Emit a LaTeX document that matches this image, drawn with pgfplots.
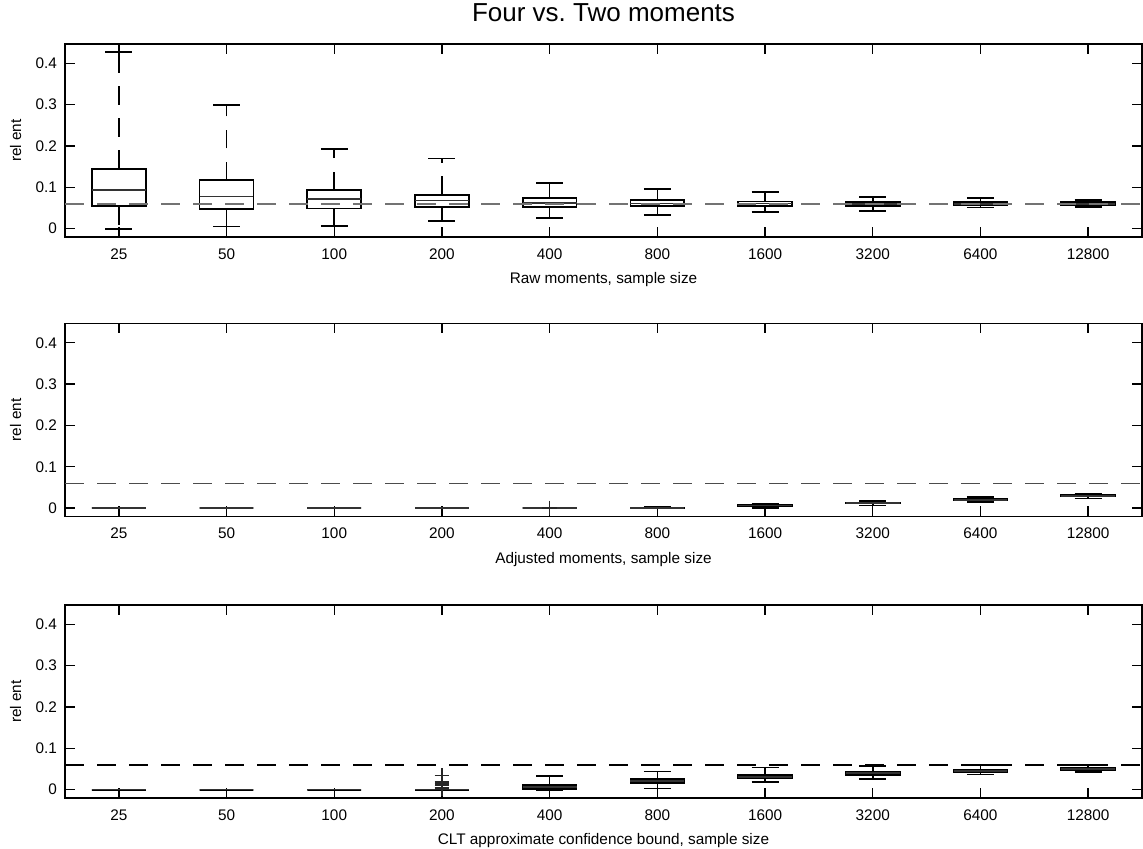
\documentclass[border=0pt]{standalone}
\usepackage{fontspec}
\setmainfont{Liberation Sans}
\usepackage{pgfplots}
\pgfplotsset{compat=1.18}
\usepgfplotslibrary{statistics}

\newcommand{\lblfont}{\fontsize{11.5}{13}\selectfont}
\pgfplotsset{
  panel/.style={
    scale only axis, width=807.75pt, height=144.75pt,
    anchor=north west,
    boxplot/draw direction=y,
    xmin=0.5, xmax=10.5, ymin=-0.0201, ymax=0.4467,
    xtick={1,2,3,4,5,6,7,8,9,10},
    xticklabels={25,50,100,200,400,800,1600,3200,6400,12800},
    ytick={0,0.1,0.2,0.3,0.4}, yticklabels={0,0.1,0.2,0.3,0.4},
    tick align=inside, xtick pos=both, ytick pos=both,
    major tick length=7.5pt,
    tick style={black, line width=1pt},
    axis line style={black, line width=1pt},
    /pgf/number format/assume math mode=true,
    ticklabel style={font=\lblfont},
    xticklabel style={yshift=-5pt},
    yticklabel style={xshift=-2.5pt},
    ylabel={rel ent},
    ylabel style={font=\lblfont, at={(axis description cs:-0.0458,0.5)}, anchor=center},
    xlabel style={font=\lblfont, at={(axis description cs:0.5,0)}, anchor=base, yshift=-35pt},
  },
  mybox/.style={black, line width=1.3pt, solid,
    mark=+, mark size=5.5pt, mark options={black!85, solid, line width=1.2pt},
    boxplot/box extend=0.5, boxplot/whisker extend=0.25,
    boxplot/every median/.style={black!80, line width=1.2pt},
    boxplot/every box/.style={black, line width=1.3pt},
    boxplot/draw/lower whisker/.code={%
      \draw[black, line width=1.2pt, dash pattern=on 14pt off 10pt]
        (boxplot box cs:\pgfplotsboxplotvalue{lower quartile},0.5) --
        (boxplot box cs:\pgfplotsboxplotvalue{lower whisker},0.5);
      \draw[black, line width=1.3pt, solid]
        (boxplot whisker cs:\pgfplotsboxplotvalue{lower whisker},0) --
        (boxplot whisker cs:\pgfplotsboxplotvalue{lower whisker},1);
    },
    boxplot/draw/upper whisker/.code={%
      \draw[black, line width=1.2pt, dash pattern=on 14pt off 10pt]
        (boxplot box cs:\pgfplotsboxplotvalue{upper quartile},0.5) --
        (boxplot box cs:\pgfplotsboxplotvalue{upper whisker},0.5);
      \draw[black, line width=1.3pt, solid]
        (boxplot whisker cs:\pgfplotsboxplotvalue{upper whisker},0) --
        (boxplot whisker cs:\pgfplotsboxplotvalue{upper whisker},1);
    },
  },
}
% position, lower whisker, lower quartile, median, upper quartile, upper whisker, outliers
\newcommand{\bx}[7]{\addplot[mybox, boxplot prepared={draw position=#1,
  lower whisker=#2, lower quartile=#3, median=#4, upper quartile=#5, upper whisker=#6}]
  coordinates {#7};}

\begin{document}
\begin{tikzpicture}
\useasboundingbox (0,0) rectangle (857.25pt,-636.75pt);

% ---------- top panel ----------
\begin{axis}[panel, at={(48.75pt,-33pt)},
  xlabel={Raw moments, sample size},
  title={Four vs.\ Two moments},
  title style={font=\fontsize{19.5}{22}\selectfont, at={(axis description cs:0.5,1)}, anchor=base, yshift=11.25pt}]
\bx{1}{0}{0.055}{0.093}{0.145}{0.427}{}
\bx{2}{0.005}{0.047}{0.0775}{0.117}{0.299}{}
\bx{3}{0.007}{0.049}{0.072}{0.093}{0.192}{}
\bx{4}{0.018}{0.052}{0.068}{0.0815}{0.170}{}
\bx{5}{0.026}{0.052}{0.062}{0.0735}{0.111}{}
\bx{6}{0.034}{0.054}{0.061}{0.0687}{0.096}{}
\bx{7}{0.040}{0.054}{0.0605}{0.066}{0.089}{}
\bx{8}{0.043}{0.0557}{0.060}{0.0653}{0.0775}{}
\bx{9}{0.051}{0.058}{0.060}{0.0637}{0.0742}{}
\bx{10}{0.0525}{0.058}{0.060}{0.0637}{0.0687}{}
\addplot[black!55, line width=1.2pt, dash pattern=on 14pt off 10pt, mark=none] coordinates {(0.5,0.06) (10.5,0.06)};
\end{axis}

% ---------- middle panel ----------
\begin{axis}[panel, at={(48.75pt,-242.6pt)},
  xlabel={Adjusted moments, sample size}]
\bx{1}{0}{0}{0}{0}{0}{}
\bx{2}{0}{0}{0}{0}{0}{}
\bx{3}{0}{0}{0}{0}{0}{}
\bx{4}{0}{0}{0}{0}{0}{}
\bx{5}{0}{0}{0}{0}{0}{(0,0.0005)}
\bx{6}{0}{0}{0.0005}{0.0015}{0.004}{}
\bx{7}{0.001}{0.005}{0.006}{0.007}{0.011}{}
\bx{8}{0.0065}{0.011}{0.0125}{0.014}{0.0177}{}
\bx{9}{0.0145}{0.019}{0.020}{0.022}{0.0266}{}
\bx{10}{0.0233}{0.028}{0.0298}{0.031}{0.0354}{}
\addplot[black!70, line width=1.2pt, dash pattern=on 14pt off 10pt, mark=none] coordinates {(0.5,0.06) (10.5,0.06)};
\end{axis}

% ---------- bottom panel ----------
\begin{axis}[panel, at={(48.75pt,-453.75pt)},
  xlabel={CLT approximate confidence bound, sample size}]
\bx{1}{0}{0}{0}{0}{0}{}
\bx{2}{0}{0}{0}{0}{0}{}
\bx{3}{0}{0}{0}{0}{0}{}
\bx{4}{0}{0}{0}{0}{0}{(0,0.002) (0,0.0056) (0,0.0097) (0,0.0138) (0,0.0186) (0,0.034)}
\bx{5}{0}{0.001}{0.006}{0.012}{0.034}{}
\bx{6}{0.003}{0.016}{0.021}{0.026}{0.044}{}
\bx{7}{0.018}{0.027}{0.031}{0.035}{0.054}{}
\bx{8}{0.026}{0.036}{0.040}{0.043}{0.058}{}
\bx{9}{0.037}{0.042}{0.045}{0.048}{0.059}{}
\bx{10}{0.042}{0.047}{0.050}{0.052}{0.059}{}
\addplot[black, line width=1.2pt, dash pattern=on 14pt off 10pt, mark=none] coordinates {(0.5,0.06) (10.5,0.06)};
\end{axis}
\end{tikzpicture}
\end{document}
